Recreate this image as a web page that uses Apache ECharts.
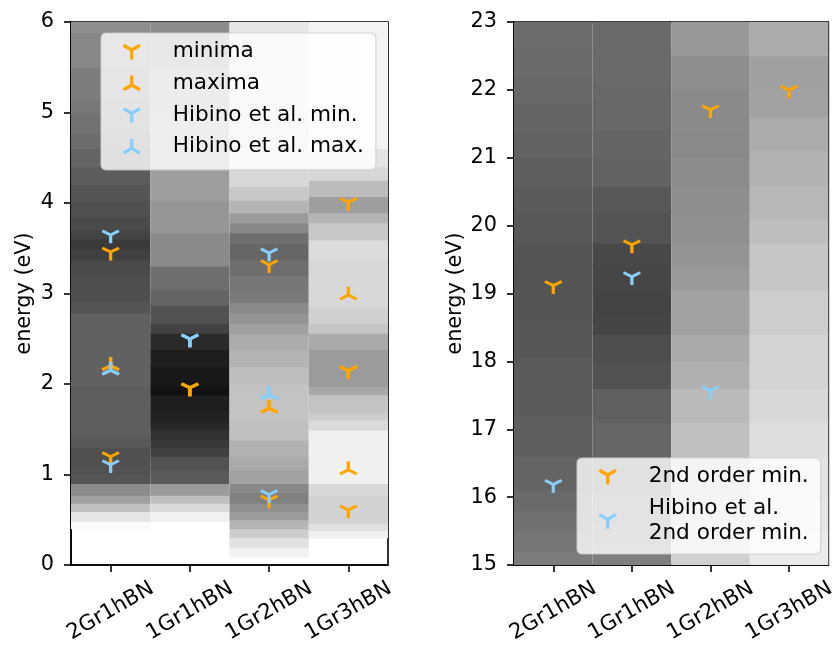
<!DOCTYPE html>
<html>
<head>
<meta charset="utf-8">
<script src="https://cdn.jsdelivr.net/npm/echarts@6/dist/echarts.min.js"></script>
<style>html,body{margin:0;padding:0;background:#fff;}#c{width:838px;height:646px;}</style>
</head>
<body>
<div id="c"></div>
<script>
// ---------- DATA ----------
const categories = ['2Gr1hBN', '1Gr1hBN', '1Gr2hBN', '1Gr3hBN'];
const leftTicks = [0, 1, 2, 3, 4, 5, 6];
const rightTicks = [15, 16, 17, 18, 19, 20, 21, 22, 23];

// grey bands [energy from, energy to, grey level 0..255], left panel (0-6 eV)
const bands2Gr1hBN = [[0.40,0.48,250],[0.48,0.59,230],[0.59,0.68,192],[0.68,0.77,160],[0.77,0.9,140],[0.9,1.0,85],[1.0,1.1,82],[1.1,1.3,80],[1.3,1.4,88],[1.4,1.97,94],[1.97,2.78,97],[2.78,2.9,85],[2.9,3.04,80],[3.04,3.2,78],[3.2,3.37,74],[3.37,3.5,64],[3.5,3.6,58],[3.6,3.7,68],[3.7,3.85,74],[3.85,4.03,80],[4.03,4.2,85],[4.2,4.4,92],[4.4,4.6,100],[4.6,4.77,108],[4.77,5.0,114],[5.0,5.14,120],[5.14,5.5,125],[5.5,5.88,135],[5.88,6.0,142]];
const bands1Gr1hBN = [[0.48,0.59,242],[0.59,0.68,218],[0.68,0.77,192],[0.77,0.9,155],[0.9,1.05,90],[1.05,1.2,82],[1.2,1.3,64],[1.3,1.38,56],[1.38,1.5,50],[1.5,1.57,40],[1.57,1.7,34],[1.7,1.88,30],[1.88,1.97,18],[1.97,2.19,24],[2.19,2.38,30],[2.38,2.56,42],[2.56,2.67,66],[2.67,2.87,82],[2.87,3.04,100],[3.04,3.3,110],[3.3,3.67,138],[3.67,4.03,150],[4.03,4.37,158],[4.37,4.6,165],[4.6,5.0,170],[5.0,5.5,160],[5.5,6.0,140]];
const bands1Gr2hBN = [[0.09,0.19,242],[0.19,0.3,225],[0.3,0.4,205],[0.4,0.5,180],[0.5,0.59,155],[0.59,0.68,144],[0.68,0.8,128],[0.8,0.9,136],[0.9,1.05,162],[1.05,1.2,170],[1.2,1.38,178],[1.38,1.6,192],[1.6,2.0,195],[2.0,2.19,190],[2.19,2.38,180],[2.38,2.55,172],[2.55,2.67,160],[2.67,2.78,148],[2.78,2.9,138],[2.9,3.04,122],[3.04,3.2,118],[3.2,3.37,110],[3.37,3.55,102],[3.55,3.67,110],[3.67,3.78,136],[3.78,3.89,155],[3.89,4.03,180],[4.03,4.18,200],[4.18,4.37,215],[4.37,5.0,225],[5.0,6.0,230]];
const bands1Gr3hBN = [[0.3,0.38,240],[0.38,0.46,225],[0.46,0.77,210],[0.77,0.9,216],[0.9,1.49,240],[1.49,1.6,218],[1.6,1.68,205],[1.68,1.88,195],[1.88,1.97,168],[1.97,2.38,155],[2.38,2.56,170],[2.56,2.67,197],[2.67,2.85,208],[2.85,3.37,216],[3.37,3.59,220],[3.59,3.78,200],[3.78,3.89,180],[3.89,4.07,158],[4.07,4.25,188],[4.25,4.4,215],[4.4,4.6,228],[4.6,6.0,243]];

// right panel (15-23 eV)
const hiBands2Gr1hBN = [[15,15.2,124],[15.2,15.5,118],[15.5,15.8,112],[15.8,16.1,106],[16.1,16.6,100],[16.6,17.2,95],[17.2,18.06,91],[18.06,18.6,87],[18.6,19.05,85],[19.05,19.4,84],[19.4,19.74,85],[19.74,20.2,88],[20.2,20.57,91],[20.57,21.0,95],[21.0,21.36,98],[21.36,21.8,101],[21.8,22.2,104],[22.2,22.6,107],[22.6,23,109]];
const hiBands1Gr1hBN = [[15,15.3,127],[15.3,15.6,122],[15.6,16.1,116],[16.1,16.6,108],[16.6,17.1,102],[17.1,17.6,96],[17.6,18.0,82],[18.0,18.4,78],[18.4,18.7,69],[18.7,19.05,68],[19.05,19.4,70],[19.4,19.74,72],[19.74,20.2,84],[20.2,20.57,88],[20.57,21.0,98],[21.0,21.4,101],[21.4,22.1,104],[22.1,23,106]];
const hiBands1Gr2hBN = [[15,15.5,208],[15.5,16.0,204],[16.0,16.6,199],[16.6,17.1,192],[17.1,17.6,186],[17.6,18.0,176],[18.0,18.4,170],[18.4,19.05,162],[19.05,19.4,153],[19.4,19.74,148],[19.74,20.2,144],[20.2,20.57,142],[20.57,21.0,139],[21.0,21.4,137],[21.4,22.0,138],[22.0,22.5,141],[22.5,23,152]];
const hiBands1Gr3hBN = [[15,15.5,234],[15.5,16.0,230],[16.0,16.6,226],[16.6,17.1,221],[17.1,17.6,216],[17.6,18.4,212],[18.4,19.05,205],[19.05,19.74,198],[19.74,20.1,190],[20.1,20.6,183],[20.6,21.1,178],[21.1,21.6,172],[21.6,22.0,162],[22.0,22.5,160],[22.5,23,172]];

// markers
const minimaData = [['2Gr1hBN',3.46],['2Gr1hBN',1.2],['1Gr1hBN',1.96],['1Gr1hBN',1.96],['1Gr1hBN',1.96],['1Gr2hBN',3.32],['1Gr2hBN',0.72],['1Gr3hBN',4.01],['1Gr3hBN',2.15],['1Gr3hBN',2.15],['1Gr3hBN',2.15],['1Gr3hBN',0.61]];
const maximaData = [['2Gr1hBN',2.2],['2Gr1hBN',2.2],['1Gr2hBN',1.73],['1Gr2hBN',1.73],['1Gr2hBN',1.73],['1Gr3hBN',2.98],['1Gr3hBN',1.05]];
const hibinoMinData = [['2Gr1hBN',3.65],['2Gr1hBN',1.11],['1Gr1hBN',2.5],['1Gr1hBN',2.5],['1Gr1hBN',2.5],['1Gr2hBN',3.45],['1Gr2hBN',0.78]];
const hibinoMaxData = [['2Gr1hBN',2.15],['2Gr1hBN',2.15],['1Gr2hBN',1.88],['1Gr2hBN',1.88],['1Gr2hBN',1.88]];
const secondMinData = [['2Gr1hBN',19.12],['1Gr1hBN',19.72],['1Gr2hBN',21.71],['1Gr3hBN',22.0]];
const hibinoSecondMinData = [['2Gr1hBN',16.19],['1Gr1hBN',19.25],['1Gr2hBN',17.57]];

// ---------- BUILD ----------
function toRects(cols) {
  const out = [];
  cols.forEach((bands, ci) => bands.forEach(b => out.push([ci, b[0], b[1], b[2]])));
  return out;
}
const leftRects = toRects([bands2Gr1hBN, bands1Gr1hBN, bands1Gr2hBN, bands1Gr3hBN]);
const rightRects = toRects([hiBands2Gr1hBN, hiBands1Gr1hBN, hiBands1Gr2hBN, hiBands1Gr3hBN]);

// matplotlib-like tri markers ('1' tri_down, '2' tri_up)
function triMarker(up) {
  const L = 9.6, h = 1.65;
  const base = [[-h, 0], [h, 0], [h, L], [-h, L]];
  let d = '';
  let minX = 1e9, maxX = -1e9, minY = 1e9, maxY = -1e9;
  [0, 120, 240].forEach(a => {
    const t = a * Math.PI / 180, c = Math.cos(t), s = Math.sin(t);
    const pts = base.map(([x, y]) => {
      let px = x * c - y * s, py = x * s + y * c;
      if (up) py = -py;
      minX = Math.min(minX, px); maxX = Math.max(maxX, px);
      minY = Math.min(minY, py); maxY = Math.max(maxY, py);
      return [px, py];
    });
    d += 'M' + pts.map(p => p[0].toFixed(3) + ',' + p[1].toFixed(3)).join('L') + 'Z';
  });
  return {
    symbol: 'path://' + d,
    size: [maxX - minX, maxY - minY],
    offset: [(minX + maxX) / 2, (minY + maxY) / 2]
  };
}
const TD = triMarker(false), TU = triMarker(true);
const ORANGE = '#FFA500', BLUE = '#87CEFA';
const FONT = 'DejaVu Sans';
const FS = 20.8;
const LFS = 21.6;

function bandSeries(xi, data) {
  return {
    type: 'custom', xAxisIndex: xi, yAxisIndex: xi, data: data, silent: true, clip: true,
    encode: { x: 0, y: [1, 2] },
    renderItem: function (params, api) {
      const ci = api.value(0);
      const top = api.coord([ci, api.value(2)]);
      const bot = api.coord([ci, api.value(1)]);
      const w = api.size([1, 0])[0];
      return {
        type: 'rect',
        shape: { x: top[0] - w / 2, y: top[1] - 0.4, width: w, height: bot[1] - top[1] + 0.8 },
        style: { fill: api.visual('color') }
      };
    }
  };
}
function markerSeries(name, xi, data, m, color) {
  return {
    type: 'scatter', name: name, xAxisIndex: xi, yAxisIndex: xi, data: data,
    symbol: m.symbol, symbolSize: m.size, symbolOffset: m.offset, symbolKeepAspect: true,
    itemStyle: { color: color, opacity: 1 }, silent: true
  };
}

function xAxis(gi) {
  return {
    type: 'category', gridIndex: gi, data: categories,
    axisLine: { show: true, lineStyle: { color: '#000', width: 1.6 } },
    axisTick: { show: true, alignWithLabel: true, length: 7, lineStyle: { color: '#000', width: 1.6 } },
    axisLabel: { interval: 0, rotate: 30, align: 'center', verticalAlign: 'middle', margin: 46,
      color: '#000', fontSize: 21.2, fontFamily: FONT },
    splitLine: { show: false }
  };
}
function yAxis(gi, ticks, gap) {
  return {
    type: 'value', gridIndex: gi, min: ticks[0], max: ticks[ticks.length - 1], interval: 1,
    name: 'energy (eV)', nameLocation: 'middle', nameGap: gap,
    nameTextStyle: { color: '#000', fontSize: FS, fontFamily: FONT },
    axisLine: { show: true, lineStyle: { color: '#000', width: 1.6 } },
    axisTick: { show: true, length: 7, lineStyle: { color: '#000', width: 1.6 } },
    axisLabel: { color: '#000', fontSize: FS, fontFamily: FONT, margin: 17 },
    splitLine: { show: false }
  };
}
function legendBase(extra) {
  return Object.assign({
    orient: 'vertical', itemWidth: 18, itemHeight: 16,
    backgroundColor: 'rgba(255,255,255,0.8)', borderColor: 'rgba(204,204,204,0.8)', borderWidth: 1.2, borderRadius: 5,
    textStyle: { color: '#000', fontSize: LFS, fontFamily: FONT, lineHeight: 24.3, padding: [0, 0, 0, 27] },
    selectedMode: false
  }, extra);
}

const chart = echarts.init(document.getElementById('c'), null, { renderer: 'canvas' });
chart.setOption({
  animation: false,
  backgroundColor: '#fff',
  grid: [
    { left: 71, top: 22, width: 317, height: 543, show: true, borderColor: '#000', borderWidth: 1.6, backgroundColor: 'transparent' },
    { left: 514, top: 22, width: 318, height: 543, show: true, borderColor: '#000', borderWidth: 1.6, backgroundColor: 'transparent' }
  ],
  xAxis: [xAxis(0), xAxis(1)],
  yAxis: [yAxis(0, leftTicks, 36), yAxis(1, rightTicks, 48)],
  visualMap: [{
    type: 'continuous', show: false, min: 0, max: 255, dimension: 3, seriesIndex: [0, 5],
    inRange: { color: ['#000000', '#ffffff'] }
  }],
  legend: [
    legendBase({ left: 101, top: 33, itemGap: 7.4, padding: [6.5, 12, 11, 21.7],
      data: ['minima', 'maxima', 'Hibino et al. min.', 'Hibino et al. max.'] }),
    legendBase({ left: 577, top: 458, itemGap: 7.9, padding: [6.5, 12, 8.7, 21.7],
      data: ['2nd order min.', 'Hibino et al.\n2nd order min.'] })
  ],
  series: [
    bandSeries(0, leftRects),
    markerSeries('minima', 0, minimaData, TD, ORANGE),
    markerSeries('maxima', 0, maximaData, TU, ORANGE),
    markerSeries('Hibino et al. min.', 0, hibinoMinData, TD, BLUE),
    markerSeries('Hibino et al. max.', 0, hibinoMaxData, TU, BLUE),
    bandSeries(1, rightRects),
    markerSeries('2nd order min.', 1, secondMinData, TD, ORANGE),
    markerSeries('Hibino et al.\n2nd order min.', 1, hibinoSecondMinData, TD, BLUE)
  ]
});
</script>
</body>
</html>
